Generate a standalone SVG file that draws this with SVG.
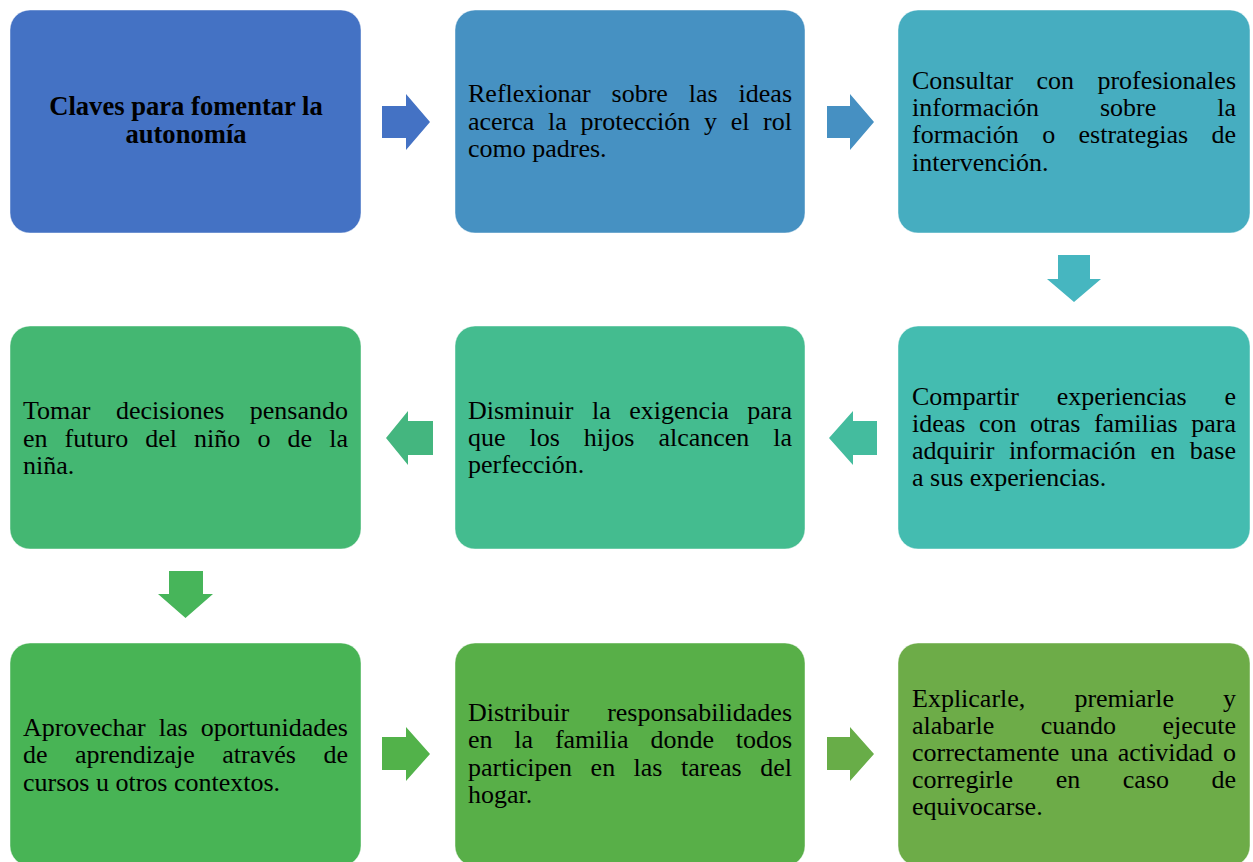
<svg xmlns="http://www.w3.org/2000/svg" width="1253" height="862" viewBox="0 0 1253 862">
<style>
.box{stroke:#ffffff;stroke-opacity:0.45;stroke-width:1}
.t{font-family:"Liberation Serif","Times New Roman",serif;font-size:26px;fill:#000}
.b{font-weight:bold;text-anchor:middle;font-size:26.6px}
.e{text-anchor:end}
</style>
<rect width="1253" height="862" fill="#ffffff"/>
<g id="connectors">
<polygon fill="#4472C4" points="382,106 406,106 406,94 430,122 406,150 406,138 382,138"/>
<polygon fill="#4690C2" points="827,106 850,106 850,94 874,122 850,150 850,138 827,138"/>
<polygon fill="#46B6C0" points="1058,255 1090,255 1090,279 1101,279 1074,302 1047,279 1058,279"/>
<polygon fill="#44BC9E" points="877,421 853,421 853,411 829,438 853,465 853,455 877,455"/>
<polygon fill="#44B67F" points="433,421 408,421 408,411 386,438 408,465 408,455 433,455"/>
<polygon fill="#47B55A" points="169,571 203,571 203,594 213,594 185.5,618 158,594 169,594"/>
<polygon fill="#52B24A" points="382,737 406,737 406,727 430,754 406,781 406,770 382,770"/>
<polygon fill="#68AD48" points="827,737 850,737 850,727 874,754 850,781 850,770 827,770"/>
</g>
<g id="node1">
<rect class="box" x="10" y="10" width="351" height="223" rx="20" fill="#4472C4"/>
<text class="t b" x="186" y="115">Claves para fomentar la</text>
<text class="t b" x="186" y="143">autonomía</text>
</g>
<g id="node2">
<rect class="box" x="455" y="10" width="350" height="223" rx="20" fill="#4691C2"/>
<text class="t" y="102"><tspan x="468">Reflexionar</tspan><tspan x="611.6">sobre</tspan><tspan x="688.8">las</tspan></text>
<text class="t e" x="792" y="102">ideas</text>
<text class="t" y="130"><tspan x="468">acerca</tspan><tspan x="548.1">la</tspan><tspan x="580.6">protección</tspan><tspan x="704">y</tspan><tspan x="730.7">el</tspan></text>
<text class="t e" x="792" y="130">rol</text>
<text class="t" x="468" y="157">como padres.</text>
</g>
<g id="node3">
<rect class="box" x="898" y="10" width="352" height="223" rx="20" fill="#46ADC0"/>
<text class="t" y="89"><tspan x="912">Consultar</tspan><tspan x="1036.5">con</tspan></text>
<text class="t e" x="1236" y="89">profesionales</text>
<text class="t" y="116"><tspan x="912">información</tspan><tspan x="1100">sobre</tspan></text>
<text class="t e" x="1236" y="116">la</text>
<text class="t" y="143"><tspan x="912">formación</tspan><tspan x="1042.2">o</tspan><tspan x="1078.5">estrategias</tspan></text>
<text class="t e" x="1236" y="143">de</text>
<text class="t" x="912" y="171">intervención.</text>
</g>
<g id="node4">
<rect class="box" x="898" y="326" width="352" height="223" rx="20" fill="#44BCB0"/>
<text class="t" y="405"><tspan x="912">Compartir</tspan><tspan x="1056.7">experiencias</tspan></text>
<text class="t e" x="1236" y="405">e</text>
<text class="t" y="432"><tspan x="912">ideas</tspan><tspan x="978.9">con</tspan><tspan x="1029.9">otras</tspan><tspan x="1093.9">familias</tspan></text>
<text class="t e" x="1236" y="432">para</text>
<text class="t" y="459"><tspan x="912">adquirir</tspan><tspan x="1008.9">información</tspan><tspan x="1150.6">en</tspan></text>
<text class="t e" x="1236" y="459">base</text>
<text class="t" x="912" y="486">a sus experiencias.</text>
</g>
<g id="node5">
<rect class="box" x="455" y="326" width="350" height="223" rx="20" fill="#44BC8F"/>
<text class="t" y="419"><tspan x="468">Disminuir</tspan><tspan x="592">la</tspan><tspan x="629.3">exigencia</tspan></text>
<text class="t e" x="792" y="419">para</text>
<text class="t" y="446"><tspan x="468">que</tspan><tspan x="529.5">los</tspan><tspan x="583.8">hijos</tspan><tspan x="658.4">alcancen</tspan></text>
<text class="t e" x="792" y="446">la</text>
<text class="t" x="468" y="473">perfección.</text>
</g>
<g id="node6">
<rect class="box" x="10" y="326" width="351" height="223" rx="20" fill="#44B772"/>
<text class="t" y="419"><tspan x="23">Tomar</tspan><tspan x="116">decisiones</tspan></text>
<text class="t e" x="348" y="419">pensando</text>
<text class="t" y="447"><tspan x="23">en</tspan><tspan x="64.6">futuro</tspan><tspan x="145.2">del</tspan><tspan x="194.1">niño</tspan><tspan x="257.4">o</tspan><tspan x="287.5">de</tspan></text>
<text class="t e" x="348" y="447">la</text>
<text class="t" x="23" y="474">niña.</text>
</g>
<g id="node7">
<rect class="box" x="10" y="643" width="351" height="223" rx="20" fill="#48B455"/>
<text class="t" y="736"><tspan x="23">Aprovechar</tspan><tspan x="158.8">las</tspan></text>
<text class="t e" x="348" y="736">oportunidades</text>
<text class="t" y="763"><tspan x="23">de</tspan><tspan x="75">aprendizaje</tspan><tspan x="222.3">através</tspan></text>
<text class="t e" x="348" y="763">de</text>
<text class="t" x="23" y="791">cursos u otros contextos.</text>
</g>
<g id="node8">
<rect class="box" x="455" y="643" width="350" height="223" rx="20" fill="#58AF48"/>
<text class="t" x="468" y="721">Distribuir</text>
<text class="t e" x="792" y="721">responsabilidades</text>
<text class="t" y="748"><tspan x="468">en</tspan><tspan x="514.3">la</tspan><tspan x="554.9">familia</tspan><tspan x="650.4">donde</tspan></text>
<text class="t e" x="792" y="748">todos</text>
<text class="t" y="776"><tspan x="468">participen</tspan><tspan x="590.6">en</tspan><tspan x="633.6">las</tspan><tspan x="681.1">tareas</tspan></text>
<text class="t e" x="792" y="776">del</text>
<text class="t" x="468" y="803">hogar.</text>
</g>
<g id="node9">
<rect class="box" x="898" y="643" width="352" height="223" rx="20" fill="#6DAC48"/>
<text class="t" y="707"><tspan x="912">Explicarle,</tspan><tspan x="1074.4">premiarle</tspan></text>
<text class="t e" x="1236" y="707">y</text>
<text class="t" y="734"><tspan x="912">alabarle</tspan><tspan x="1040.8">cuando</tspan></text>
<text class="t e" x="1236" y="734">ejecute</text>
<text class="t" y="761"><tspan x="912">correctamente</tspan><tspan x="1070.4">una</tspan><tspan x="1117.8">actividad</tspan></text>
<text class="t e" x="1236" y="761">o</text>
<text class="t" y="788"><tspan x="912">corregirle</tspan><tspan x="1055.7">en</tspan><tspan x="1122.8">caso</tspan></text>
<text class="t e" x="1236" y="788">de</text>
<text class="t" x="912" y="815">equivocarse.</text>
</g>
</svg>
